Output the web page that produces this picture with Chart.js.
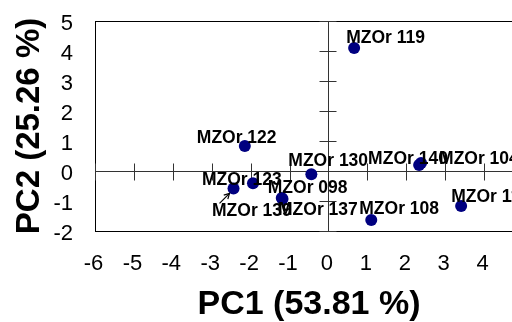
<!DOCTYPE html>
<html><head><meta charset="utf-8">
<script src="https://cdn.jsdelivr.net/npm/chart.js@4/dist/chart.umd.min.js"></script>
<style>
html,body{margin:0;padding:0;overflow:hidden;background:#fff;width:512px;height:322px}
#wrap{width:530px;height:322px;position:absolute;left:0;top:0}
</style>
</head><body><div id="wrap"><canvas id="c" width="530" height="322"></canvas></div>
<script>
// ---- data ----
const sampleNames = ['MZOr 119','MZOr 122','MZOr 130','MZOr 140','MZOr 104','MZOr 098','MZOr 137','MZOr 123','MZOr 139','MZOr 108','MZOr 115'];
const pc1Values   = [0.66, -2.15, -0.44, 2.33, 2.38, -1.20, -1.18, -1.94, -2.44, 1.10, 3.41];
const pc2Values   = [4.10,  0.83, -0.11, 0.20, 0.27, -0.90, -0.93, -0.41, -0.58, -1.63, -1.17];
const xTickValues = [-6,-5,-4,-3,-2,-1,0,1,2,3,4,5];
const yTickValues = [-2,-1,0,1,2,3,4,5];
const xTitle = 'PC1 (53.81 %)';
const yTitle = 'PC2 (25.26 %)';

// ---- label placement styling (pixel offsets of each label from its point) ----
const labelOffsets = [[-8,-5],[-48,-3],[-23,-8],[-51,-1],[18,1],[-14,-5],[-4.5,16],[-51,2],[-21.5,27.6],[-12,-6],[-10,-4]];
const arrowLabel = 'MZOr 139';
const arrowFromTo = [[-14,15],[-4,5]];

const FONT = '"Liberation Sans", Arial, Helvetica, sans-serif';

const axesPlugin = {
  id: 'axesCross',
  beforeDatasetsDraw(chart) {
    const {ctx, chartArea: a, scales: {x, y}} = chart;
    const x0 = Math.round(x.getPixelForValue(0)) + 0.5;
    const y0 = Math.round(y.getPixelForValue(0)) + 0.5;
    ctx.save();
    ctx.lineWidth = 1;
    ctx.strokeStyle = '#000';
    ctx.strokeRect(a.left + 0.5, a.top + 0.5, a.right - a.left, a.bottom - a.top);
    ctx.strokeStyle = '#333';
    ctx.beginPath();
    ctx.moveTo(a.left, y0); ctx.lineTo(a.right, y0);
    ctx.moveTo(x0, a.top); ctx.lineTo(x0, a.bottom);
    xTickValues.forEach(v => {
      if (v === 0) return;
      const px = Math.round(x.getPixelForValue(v)) + 0.5;
      ctx.moveTo(px, y0 - 8); ctx.lineTo(px, y0 + 9);
    });
    yTickValues.forEach(v => {
      if (v === 0) return;
      const py = Math.round(y.getPixelForValue(v)) + 0.5;
      ctx.moveTo(x0 - 9, py); ctx.lineTo(x0 + 8, py);
    });
    ctx.stroke();
    ctx.restore();
  }
};

const labelPlugin = {
  id: 'pointLabels',
  afterDatasetsDraw(chart) {
    const {ctx} = chart;
    const meta = chart.getDatasetMeta(0);
    ctx.save();
    ctx.font = 'bold 17.5px ' + FONT;
    ctx.fillStyle = '#000';
    ctx.textAlign = 'left';
    ctx.textBaseline = 'alphabetic';
    meta.data.forEach((pt, i) => {
      const o = labelOffsets[i];
      ctx.fillText(sampleNames[i], pt.x + o[0], pt.y + o[1]);
      if (sampleNames[i] === arrowLabel) {
        const [f, t] = arrowFromTo;
        const fx = pt.x + f[0], fy = pt.y + f[1], tx = pt.x + t[0], ty = pt.y + t[1];
        ctx.strokeStyle = '#000'; ctx.lineWidth = 1.2;
        ctx.beginPath(); ctx.moveTo(fx, fy); ctx.lineTo(tx, ty); ctx.stroke();
        const ang = Math.atan2(ty - fy, tx - fx);
        ctx.beginPath();
        ctx.moveTo(tx - 6 * Math.cos(ang - 0.5), ty - 6 * Math.sin(ang - 0.5));
        ctx.lineTo(tx, ty);
        ctx.lineTo(tx - 6 * Math.cos(ang + 0.5), ty - 6 * Math.sin(ang + 0.5));
        ctx.stroke();
      }
    });
    ctx.restore();
  }
};

function zeroPad(s) { s.paddingTop = 0; s.paddingBottom = 0; s.paddingLeft = 0; s.paddingRight = 0; }

new Chart(document.getElementById('c'), {
  type: 'scatter',
  data: {
    datasets: [{
      data: pc1Values.map((v, i) => ({x: v, y: pc2Values[i]})),
      backgroundColor: '#000080',
      borderColor: '#000080',
      borderWidth: 0,
      pointRadius: 6,
      pointHoverRadius: 6
    }]
  },
  options: {
    responsive: false,
    animation: false,
    devicePixelRatio: 1,
    layout: {padding: {left: 0, right: 7, top: 21, bottom: 0}},
    plugins: {legend: {display: false}, tooltip: {enabled: false}},
    scales: {
      x: {
        type: 'linear', min: -6, max: 5,
        afterBuildTicks: s => { s.ticks = xTickValues.map(v => ({value: v})); },
        afterFit: s => { s.height = 91; zeroPad(s); },
        grid: {display: false, drawTicks: false},
        border: {display: false},
        ticks: {color: '#000', font: {family: FONT, size: 22, lineHeight: 1.2}, padding: 20, labelOffset: -1.5, maxRotation: 0, autoSkip: false},
        title: {display: true, text: xTitle, color: '#000', font: {family: FONT, size: 34, weight: 'bold', lineHeight: 1}, padding: {top: 0, bottom: 0}}
      },
      y: {
        type: 'linear', min: -2, max: 5,
        afterBuildTicks: s => { s.ticks = yTickValues.map(v => ({value: v})); },
        afterFit: s => { s.width = 95; zeroPad(s); },
        grid: {display: false, drawTicks: false},
        border: {display: false},
        ticks: {color: '#000', font: {family: FONT, size: 22, lineHeight: 1.2}, padding: 22, labelOffset: 2.5, autoSkip: false},
        title: {display: true, text: yTitle, color: '#000', font: {family: FONT, size: 33, weight: 'bold', lineHeight: 1}, padding: {top: 13, bottom: 0}}
      }
    }
  },
  plugins: [axesPlugin, labelPlugin]
});
</script>
</body></html>
